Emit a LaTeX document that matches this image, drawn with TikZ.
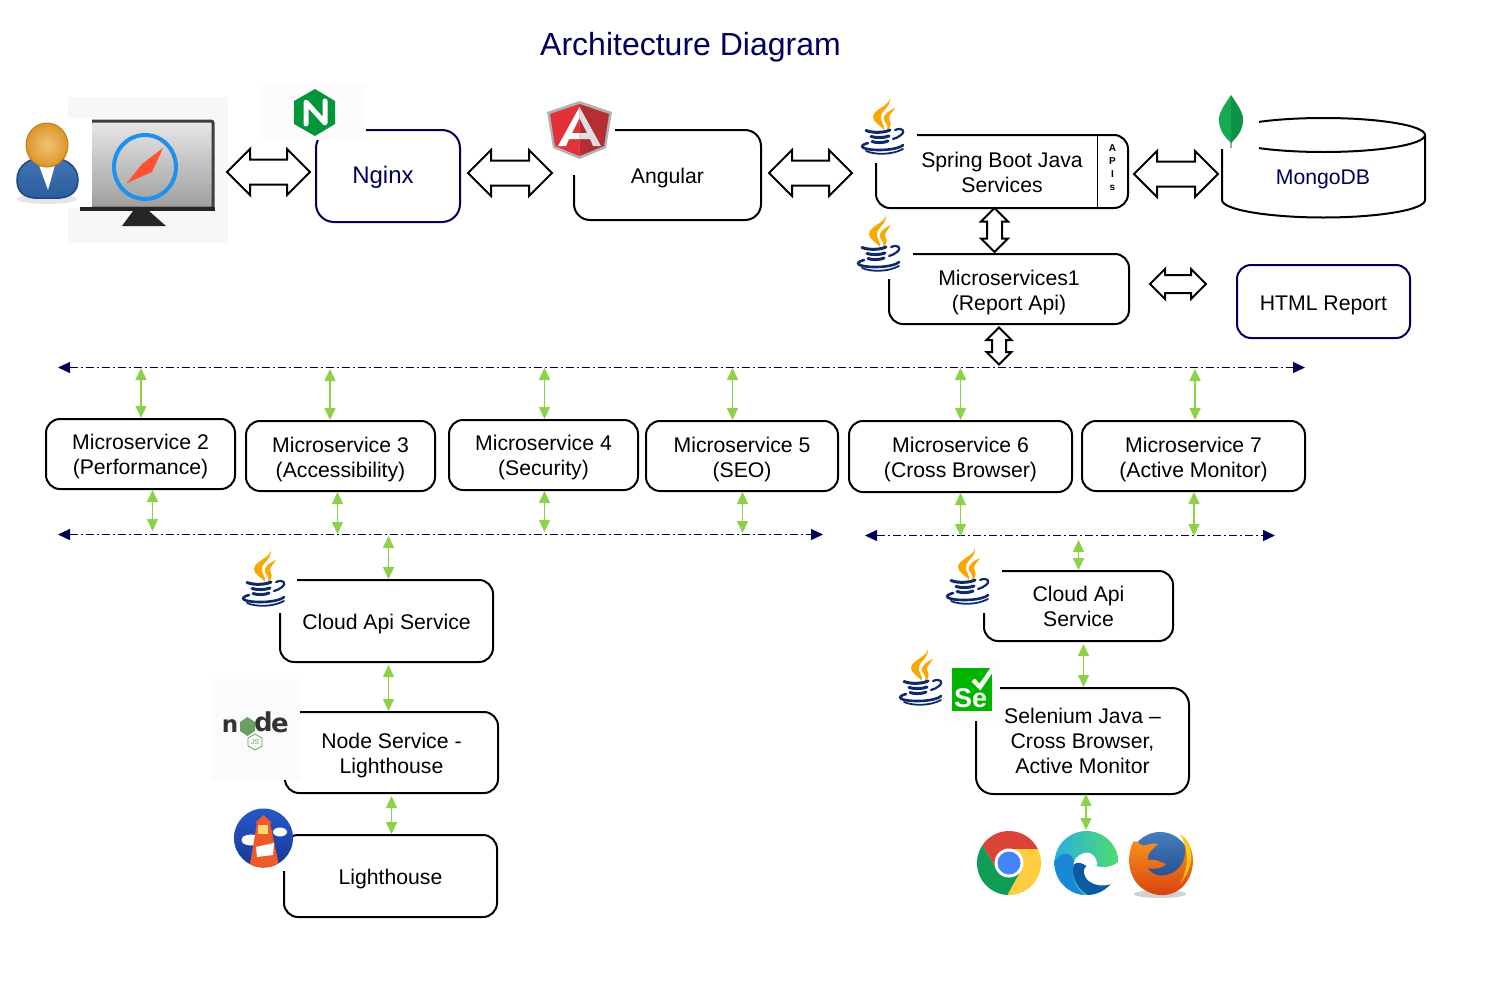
\documentclass[tikz,border=0pt]{standalone}
\usepackage{fontspec}
\setmainfont{Liberation Sans}
\newfontfamily\dejabold{DejaVu Sans}[BoldFont={DejaVu Sans Bold}]
\usetikzlibrary{arrows.meta,shapes.arrows,calc}
\definecolor{navy}{HTML}{00005A}
\definecolor{garrowc}{HTML}{8CD147}
\definecolor{javablue}{HTML}{0F2A6A}
\definecolor{javaorange}{HTML}{F8A800}
\definecolor{compassblue}{RGB}{30,144,240}
\definecolor{suitblue}{RGB}{66,118,180}
\definecolor{suitlow}{RGB}{44,92,158}
\definecolor{suitedge}{RGB}{30,72,130}
\definecolor{headlight}{RGB}{240,196,120}
\definecolor{headorange}{RGB}{220,150,40}
\definecolor{headedge}{RGB}{190,125,30}
\definecolor{nginxgreen}{RGB}{0,150,57}
\definecolor{angred}{RGB}{226,50,55}
\definecolor{angdark}{RGB}{181,46,49}
\definecolor{leafa}{RGB}{19,170,82}
\definecolor{leafb}{RGB}{15,145,72}
\definecolor{nodegreen}{RGB}{104,160,99}
\definecolor{lhblue}{RGB}{38,88,200}
\definecolor{lhblued}{RGB}{24,56,150}
\definecolor{lhorange}{RGB}{240,90,40}
\definecolor{lhyellow}{RGB}{255,215,110}
\definecolor{selgreen}{RGB}{0,180,0}
\definecolor{chred}{RGB}{219,68,55}
\definecolor{chyellow}{RGB}{255,205,64}
\definecolor{chgreen}{RGB}{15,157,88}
\definecolor{chblue}{RGB}{66,133,244}
\definecolor{edgea}{RGB}{40,175,225}
\definecolor{edgeb}{RGB}{80,220,110}
\definecolor{edgec}{RGB}{26,135,215}
\definecolor{edged}{RGB}{12,89,164}
\definecolor{ffa}{RGB}{70,125,190}
\definecolor{ffb}{RGB}{25,65,130}
\definecolor{ffc}{RGB}{248,150,30}
\definecolor{ffe}{RGB}{216,64,16}
\definecolor{ffd}{RGB}{255,200,20}
\newcommand{\txt}{\fontsize{21.2}{25}\selectfont}
\newcommand{\tl}[2][5pt]{\vbox{\kern#1\hbox{\begin{tabular}{@{}c@{}}#2\end{tabular}}}}
\tikzset{
  box/.style={draw,line width=2pt,rounded corners=14pt,inner sep=0pt,font=\txt,text=black},
  navybox/.style={box,draw=navy},
  garrow/.style={draw=garrowc,line width=1.5pt,{Triangle[length=12pt,width=11pt]}-{Triangle[length=12pt,width=11pt]}},
  busline/.style={draw=navy,line width=1.1pt,dash pattern=on 8pt off 3pt on 2pt off 3pt,{Triangle[length=12pt,width=11pt]}-{Triangle[length=12pt,width=11pt]}},
  hollow/.style={double arrow,draw=black,fill=white,line width=2pt,inner sep=0pt,double arrow tip angle=90,anchor=center,text depth=0pt},
  javalogo/.pic={
    \fill[javaorange] (29.5,0) .. controls (32,8) and (13,12) .. (13,20) .. controls (13,25) and (20,28) .. (24,33) .. controls (25,28) and (20,24) .. (21,19) .. controls (22,13) and (32,9) .. (29.5,0) -- cycle;
    \fill[javaorange] (35,11) .. controls (28,14) and (22,19) .. (24,23) .. controls (25,26) and (29,28) .. (27,33) .. controls (34,28) and (29,24) .. (29,21) .. controls (29,18) and (32,16) .. (35,11) -- cycle;
    \draw[javablue,line width=3pt,line cap=round] (6,33.5) .. controls (12,36) and (24,36) .. (30,33);
    \draw[javablue,line width=3pt,line cap=round] (11,39.5) .. controls (16,41) and (24,41) .. (29,39);
    \draw[javablue,line width=3pt,line cap=round] (12,44.5) .. controls (16,46) and (24,46) .. (28,44);
    \draw[javablue,line width=2.2pt,line cap=round] (35,33) .. controls (42,30) and (46,34) .. (41,38) .. controls (39,40) and (36,41) .. (33,42);
    \draw[javablue,line width=2.6pt,line cap=round] (8,46) .. controls (-3,49) and (2,53) .. (20,53) .. controls (30,53) and (40,51) .. (43,48);
    \draw[javablue,line width=1.8pt,line cap=round] (6,54) .. controls (15,58) and (32,58) .. (43,52);
  }
}
\begin{document}
\begin{tikzpicture}[x=1pt,y=-1pt]
\useasboundingbox (0,0) rectangle (1498,983);
\fill[white] (0,0) rectangle (1498,983);

% title
\node[font=\fontsize{32}{38}\selectfont,text=navy,inner sep=0pt] (title) at (690.5,47.5) {Architecture Diagram};

% boxes
\node[navybox,rounded corners=18pt,minimum width=144pt,minimum height=92pt,text=navy,font=\fontsize{24}{28}\selectfont] (nginx) at (388,176) {\tl[4pt]{Nginx\hspace*{10pt}}};
\node[box,rounded corners=16pt,minimum width=187pt,minimum height=90pt] (angular) at (667.5,175) {\tl[6pt]{Angular}};
\node[box,minimum width=252pt,minimum height=73pt] (spring) at (1002,171.5) {\tl[6pt]{Spring Boot Java\\Services}};
\node[inner sep=0pt,align=center,font=\fontsize{10}{13}\selectfont\bfseries] (apis) at (1112.5,168) {A\\P\\I\\s};
\coordinate (apisx) at (1097,171);
\draw[line width=1pt] (apisx |- spring.north) -- (apisx |- spring.south);
\node[box,minimum width=240pt,minimum height=70pt] (ms1) at (1009,289) {\tl[7pt]{Microservices1\\(Report Api)}};
\node[navybox,minimum width=173pt,minimum height=73pt] (html) at (1323.5,301.5) {\tl[8pt]{HTML Report}};

\node[box,minimum width=189pt,minimum height=70pt] (ms2) at (140.5,454) {\tl{Microservice 2\\(Performance)}};
\node[box,minimum width=189pt,minimum height=70pt] (ms3) at (340.5,456) {\tl[7pt]{Microservice 3\\(Accessibility)}};
\node[box,minimum width=189pt,minimum height=70pt] (ms4) at (543.5,455) {\tl[6pt]{Microservice 4\\(Security)}};
\node[box,minimum width=192pt,minimum height=70pt] (ms5) at (742,456) {\tl[7pt]{Microservice 5\\(SEO)}};
\node[box,minimum width=223pt,minimum height=71pt] (ms6) at (960.5,456.5) {\tl[7pt]{Microservice 6\\(Cross Browser)}};
\node[box,minimum width=223pt,minimum height=70pt] (ms7) at (1193.5,456) {\tl[7pt]{Microservice 7\\(Active Monitor)}};

\node[box,minimum width=213pt,minimum height=82pt] (cloudl) at (386.5,621) {\tl[6pt]{Cloud Api Service}};
\node[box,minimum width=213pt,minimum height=81pt] (nodesvc) at (391.5,752.5) {\tl[6pt]{Node Service -\\Lighthouse}};
\node[box,minimum width=213pt,minimum height=82pt] (lh) at (390.5,876) {\tl[6pt]{Lighthouse}};
\node[box,minimum width=189pt,minimum height=70pt] (cloudr) at (1078.5,606) {\tl[6pt]{Cloud Api\\Service}};
\node[box,rounded corners=17pt,minimum width=213pt,minimum height=106pt] (sel) at (1082.5,741) {\tl[5pt]{Selenium Java --\\Cross Browser,\\Active Monitor}};

% MongoDB cylinder
\draw[line width=2pt] (1323.5,135) ellipse [x radius=101.5pt,y radius=17pt];
\draw[line width=2pt] (1222,135) -- (1222,200) .. controls (1222,210) and (1270,217.5) .. (1323.5,217.5) .. controls (1377,217.5) and (1425,210) .. (1425,200) -- (1425,135);
\node[font=\txt,text=navy,inner sep=0pt] (mongo) at (1323,179) {MongoDB};

% logo masks
\fill[white] (855,95) rectangle (917,163);
\fill[white] (850,212) rectangle (913,279);
\fill[white] (236,547) rectangle (297,613);
\fill[white] (940,545) rectangle (1002,613);
\fill[white] (893,646) rectangle (943,721);
\fill[white] (1215,92) rectangle (1259,149);
\fill[white] (545,98) rectangle (615,175);
\fill[white] (225,800) rectangle (293,871);
\fill[black!1] (262,85) rectangle (366,140);
\fill[black!1.5] (211,679) rectangle (300,780);
\fill[black!1.5] (943,660) rectangle (1000,721);

% user + monitor
\fill[black!3] (68,97) rectangle (228,243);
\fill[white] (10,118) rectangle (92,208);
\shade[top color=black!10,bottom color=black!38] (92,122) rectangle (213,208);
\draw[black!75,line width=3pt,rounded corners=2pt] (92,121) -- (213,121) -- (213,208) -- (92,208);
\fill[black!85] (80,207) rectangle (215,211);
\fill[black!85] (133,211) -- (149,211) -- (166,226) -- (122,226) -- cycle;
\draw[line width=4pt,draw=compassblue] (145,167) ellipse [x radius=31pt,y radius=32pt];
\fill[red!85!orange] (163,148) -- (149,165) -- (127,183) -- (142,170) -- cycle;
\fill[red!70!orange!80] (163,148) -- (152,172) -- (127,183) -- (142,164) -- cycle;
% user
\fill[black!10] (47,199) ellipse [x radius=30pt,y radius=5pt];
\shade[top color=suitblue,bottom color=suitlow,draw=suitedge,line width=1.5pt] (17,180) .. controls (17,165) and (30,157) .. (47,157) .. controls (64,157) and (78,165) .. (78,180) .. controls (78,192) and (70,197) .. (60,198) -- (34,198) .. controls (24,197) and (17,192) .. (17,180) -- cycle;
\fill[white] (39,165) -- (55,165) -- (48,190) -- cycle;
\shade[inner color=headlight,outer color=headorange,draw=headedge,line width=1pt] (47,145) ellipse [x radius=21pt,y radius=22pt];

% nginx logo
\fill[nginxgreen] (315,89) -- (335,101) -- (335,124) -- (315,136) -- (294,124) -- (294,101) -- cycle;
\draw[white,line width=5pt,line join=round,line cap=round] (306,124) -- (306,102) -- (325,123) -- (325,101);

% angular logo
\fill[black!30] (579.5,101) -- (612,112) -- (606,148) -- (579.5,159) -- (553,148) -- (547,112) -- cycle;
\fill[angred] (579.5,104) -- (579.5,156) -- (555,146) -- (550,114) -- cycle;
\fill[angdark] (579.5,104) -- (579.5,156) -- (604,146) -- (609,114) -- cycle;
\fill[white] (579.5,107) -- (579.5,118) -- (572,133) -- (579.5,133) -- (579.5,139) -- (569,139) -- (566,146) -- (558,146) -- cycle;
\fill[black!12] (579.5,107) -- (579.5,118) -- (587,133) -- (579.5,133) -- (579.5,139) -- (590,139) -- (593,146) -- (601,146) -- cycle;

% java logos
\pic at (860,97) {javalogo};
\pic at (856,214) {javalogo};
\pic at (241,549) {javalogo};
\pic at (945,547) {javalogo};
\pic at (898,648) {javalogo};

% mongo leaf
\fill[black!35] (1230,138) rectangle (1232,148);
\fill[leafa] (1231,95) .. controls (1222,108) and (1218,115) .. (1219,122) .. controls (1220,132) and (1226,138) .. (1231,143) -- cycle;
\fill[leafb] (1231,95) .. controls (1240,108) and (1244,115) .. (1243,122) .. controls (1242,132) and (1236,138) .. (1231,143) -- cycle;

% node logo
\node[font=\dejabold\bfseries\fontsize{23}{23}\selectfont,text=black!80,inner sep=0pt] (noden) at (230,726) {n};
\node[font=\dejabold\bfseries\fontsize{26}{26}\selectfont,text=black!80,inner sep=0pt] (noded) at (263.5,722) {d};
\node[font=\dejabold\bfseries\fontsize{26}{26}\selectfont,text=black!80,inner sep=0pt] (nodee) at (280,725) {e};
\fill[nodegreen] (247.5,717) -- (255,722) -- (255,731) -- (247.5,736) -- (240,731) -- (240,722) -- cycle;
\draw[nodegreen,line width=0.8pt] (255,734) -- (262,738) -- (262,746) -- (255,750) -- (248,746) -- (248,738) -- cycle;
\node[font=\fontsize{7}{7}\selectfont,text=nodegreen,inner sep=0pt] (nodejs) at (255,742) {JS};

% lighthouse logo
\begin{scope}
\clip (263.5,838) circle [radius=29.5pt];
\shade[top color=lhblue,bottom color=lhblued] (234,808) rectangle (293,868);
\fill[white] (251,840) ellipse [x radius=9pt,y radius=5.5pt];
\fill[white] (246,840) ellipse [x radius=4.5pt,y radius=4.5pt];
\fill[white] (280,832) ellipse [x radius=7pt,y radius=4.5pt];
\fill[lhorange] (257,823) -- (270,823) -- (280,870) -- (249,870) -- cycle;
\fill[lhorange] (263.5,815) -- (272,823) -- (255,823) -- cycle;
\fill[lhyellow] (258,825) rectangle (268,834);
\fill[white] (256,847) -- (274,843) -- (273,855) -- (257,857) -- cycle;
\end{scope}

% selenium logo
\fill[selgreen] (952,668) rectangle (992,711);
\begin{scope}
\clip (952,668) rectangle (992,711);
\draw[white,line width=4.5pt] (973,680) -- (980,687) -- (993,668);
\end{scope}
\node[font=\bfseries\fontsize{27}{27}\selectfont,text=white,inner sep=0pt] (selse) at (970.5,698) {Se};

% chrome
\begin{scope}[shift={(1009,863)}]
\clip (0,0) circle [radius=32pt];
\fill[chred] (-26.5,-17.9) -- (-33,-33) -- (33,-33) -- (28.8,-14) -- (0,-14) -- (-12.1,7) -- cycle;
\fill[chyellow] (28.8,-14) -- (33,-14) -- (33,33) -- (-2.3,33) -- (12.1,7) -- (0,-14) -- cycle;
\fill[chgreen] (-2.3,33) -- (-33,33) -- (-33,-20) -- (-26.5,-17.9) -- (-12.1,7) -- (12.1,7) -- cycle;
\fill[white] (0,0) circle [radius=14.5pt];
\fill[chblue] (0,0) circle [radius=11.5pt];
\end{scope}

% edge
\begin{scope}[shift={(1086.5,863)}]
\clip (0,0) circle [radius=32pt];
\shade[left color=edgea,right color=edgeb] (-33,-33) rectangle (33,33);
\fill[edgec] (-33,0) .. controls (-26,-14) and (-10,-12) .. (-13,4) .. controls (-16,20) and (-6,32) .. (6,36) -- (-33,36) -- cycle;
\fill[white] (33,-2) .. controls (26,5) and (14,5) .. (10,3) .. controls (12,-4) and (6,-12) .. (-2,-10) .. controls (-10,-8) and (-14,-2) .. (-13,6) .. controls (-10,16) and (0,22) .. (8,24) -- (34,22) -- cycle;
\fill[edged] (-13,2) .. controls (-16,20) and (-2,34) .. (10,34) .. controls (20,34) and (28,26) .. (30,18) .. controls (22,24) and (10,24) .. (2,18) .. controls (-4,12) and (-4,6) .. (0,3) .. controls (-4,0) and (-10,-2) .. (-13,2) -- cycle;
\end{scope}

% firefox
\begin{scope}[shift={(1160,862)}]
\fill[black!18] (0,32) ellipse [x radius=26pt,y radius=4pt];
\shade[top color=ffa,bottom color=ffb] (0,0) circle [radius=30pt];
\shade[top color=ffc,bottom color=ffe] (-27,-20) .. controls (-36,0) and (-30,28) .. (-2,33) .. controls (18,35) and (32,20) .. (33,0) .. controls (33,-10) and (30,-18) .. (24,-25) .. controls (28,-10) and (24,4) .. (14,10) .. controls (4,16) and (-8,14) .. (-12,6) .. controls (-4,8) and (2,6) .. (6,2) .. controls (0,0) and (-6,-4) .. (-12,-2) .. controls (-14,-8) and (-6,-14) .. (-2,-18) .. controls (-10,-20) and (-16,-14) .. (-20,-18) .. controls (-22,-20) and (-25,-22) .. (-27,-20) -- cycle;
\fill[ffd] (20,-28) .. controls (34,-18) and (36,2) .. (20,22) .. controls (28,8) and (30,-10) .. (20,-28) -- cycle;
\end{scope}

% hollow arrows
\node[hollow,text height=23pt,minimum height=83pt,double arrow head extend=10.5pt] (ha1) at (268.5,172) {};
\node[hollow,text height=23pt,minimum height=84pt,double arrow head extend=10.5pt] (ha2) at (510,173) {};
\node[hollow,text height=23pt,minimum height=83pt,double arrow head extend=10.5pt] (ha3) at (810.5,173) {};
\node[hollow,text height=23pt,minimum height=84pt,double arrow head extend=10.5pt] (ha4) at (1176,174) {};
\node[hollow,rotate=90,text height=13pt,minimum height=44pt,double arrow head extend=6pt] (hv1) at (994.5,230) {};
\node[hollow,text height=16pt,minimum height=56pt,double arrow head extend=6pt] (hh1) at (1178,284) {};
\node[hollow,rotate=90,text height=12pt,minimum height=37pt,double arrow head extend=5.5pt] (hv2) at (999,346) {};

% buses
\coordinate (b1l) at (58,367.5);
\coordinate (b1r) at (1305,367.5);
\coordinate (b2l) at (58,534.5);
\coordinate (b2r) at (823,534.5);
\coordinate (b3l) at (865,535.5);
\coordinate (b3r) at (1275,535.5);
\draw[busline] (b1l) -- (b1r);
\draw[busline] (b2l) -- (b2r);
\draw[busline] (b3l) -- (b3r);

% green arrows: top bus to services
\coordinate (u2) at (141,368);
\coordinate (u3) at (330,369);
\coordinate (u4) at (544.5,368);
\coordinate (u5) at (732.5,368);
\coordinate (u6) at (960.5,368);
\coordinate (u7) at (1195,369);
\draw[garrow] (u2) -- (u2 |- ms2.north);
\draw[garrow] (u3) -- (u3 |- ms3.north);
\draw[garrow] (u4) -- (u4 |- ms4.north);
\draw[garrow] (u5) -- (u5 |- ms5.north);
\draw[garrow] (u6) -- (u6 |- ms6.north);
\draw[garrow] (u7) -- (u7 |- ms7.north);
% services to lower buses
\coordinate (d2) at (152.5,531);
\coordinate (d3) at (337.5,534);
\coordinate (d4) at (544.5,532);
\coordinate (d5) at (742.5,533);
\coordinate (d6) at (960.5,536);
\coordinate (d7) at (1194,536);
\draw[garrow] (d2 |- ms2.south) -- (d2);
\draw[garrow] (d3 |- ms3.south) -- (d3);
\draw[garrow] (d4 |- ms4.south) -- (d4);
\draw[garrow] (d5 |- ms5.south) -- (d5);
\draw[garrow] (d6 |- ms6.south) -- (d6);
\draw[garrow] (d7 |- ms7.south) -- (d7);
% lower stacks
\coordinate (l1) at (388.5,536);
\coordinate (l2) at (388.5,665);
\coordinate (l3) at (391.5,796);
\coordinate (r1) at (1078.5,540);
\coordinate (r2) at (1083.5,644);
\coordinate (r3) at (1086,794);
\coordinate (r4) at (1086,830);
\draw[garrow] (l1) -- (l1 |- cloudl.north);
\draw[garrow] (l2) -- (l2 |- nodesvc.north);
\draw[garrow] (l3) -- (l3 |- lh.north);
\draw[garrow] (r1) -- (r1 |- cloudr.north);
\draw[garrow] (r2) -- (r2 |- sel.north);
\draw[garrow] (r3) -- (r4);
\end{tikzpicture}
\end{document}
